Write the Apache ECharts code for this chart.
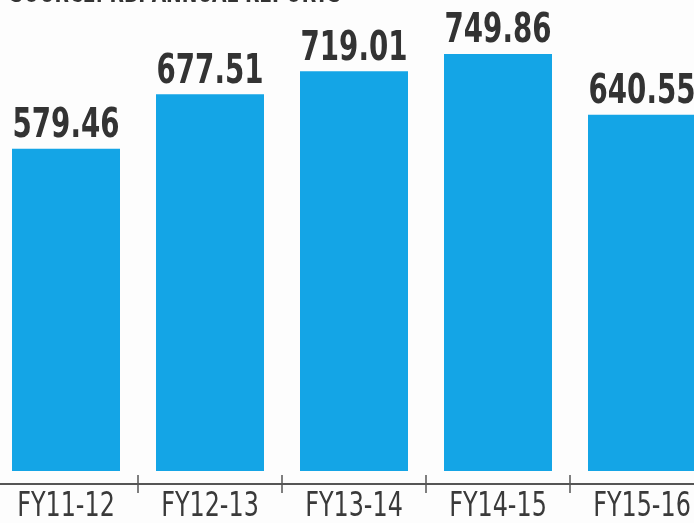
<!DOCTYPE html>
<html><head><meta charset="utf-8">
<script src="https://cdn.jsdelivr.net/npm/echarts@6/dist/echarts.min.js"></script>
<style>html,body{margin:0;padding:0;background:#fdfdfd;overflow:hidden;width:694px;height:523px;position:relative}#c{position:absolute;left:-6px;top:0;width:720px;height:523px}</style>
</head><body><div id="c"></div>
<script>
const categories = ["FY11-12","FY12-13","FY13-14","FY14-15","FY15-16"];
const values = [579.46, 677.51, 719.01, 749.86, 640.55];
const sourceText = "SOURCE: RBI ANNUAL REPORTS";

const FONT = '"DejaVu Sans Condensed", "Liberation Sans Narrow", sans-serif';
const chart = echarts.init(document.getElementById('c'));
chart.setOption({
  backgroundColor: '#fdfdfd',
  animation: false,
  graphic: [{
    type: 'text', left: 16, top: -18, scaleX: 0.8,
    style: { text: sourceText, font: 'bold 26px ' + FONT, fill: '#333' }
  }],
  grid: { left: 0, right: 0, top: 0, bottom: 39 },
  xAxis: [{
    type: 'category', data: categories,
    axisLine: { onZero: false, lineStyle: { color: '#555', width: 2 } },
    axisTick: { show: true, length: 9, lineStyle: { color: '#555', width: 1.5 } },
    axisLabel: { show: false }
  }, {
    type: 'category', data: categories, position: 'bottom',
    axisLine: { show: false, onZero: false },
    axisTick: { show: true, inside: true, length: 9, lineStyle: { color: '#555', width: 1.5 } },
    axisLabel: { show: false }
  }],
  yAxis: { type: 'value', min: -23.4, max: 847, show: false, splitLine: { show: false } },
  series: [{
    type: 'bar', data: values, barWidth: '75%',
    itemStyle: { color: '#14a5e6' }
  }, {
    type: 'custom',
    data: values.map((v, i) => [i, v]),
    renderItem: function (params, api) {
      const pt = api.coord([api.value(0), api.value(1)]);
      return {
        type: 'text', x: pt[0], y: pt[1] - 2, scaleX: 0.77,
        style: {
          text: api.value(1).toFixed(2),
          font: 'bold 40px ' + FONT,
          fill: '#333', textAlign: 'center', textVerticalAlign: 'bottom'
        }
      };
    }
  }, {
    type: 'custom',
    data: categories.map((c, i) => [i, 0]),
    renderItem: function (params, api) {
      const pt = api.coord([api.value(0), 0]);
      return {
        type: 'text', x: pt[0], y: pt[1] + 19, scaleX: 0.78,
        style: {
          text: categories[params.dataIndex],
          font: '34px ' + FONT,
          fill: '#3a3a3a', textAlign: 'center', textVerticalAlign: 'top'
        }
      };
    }
  }]
});
</script></body></html>
